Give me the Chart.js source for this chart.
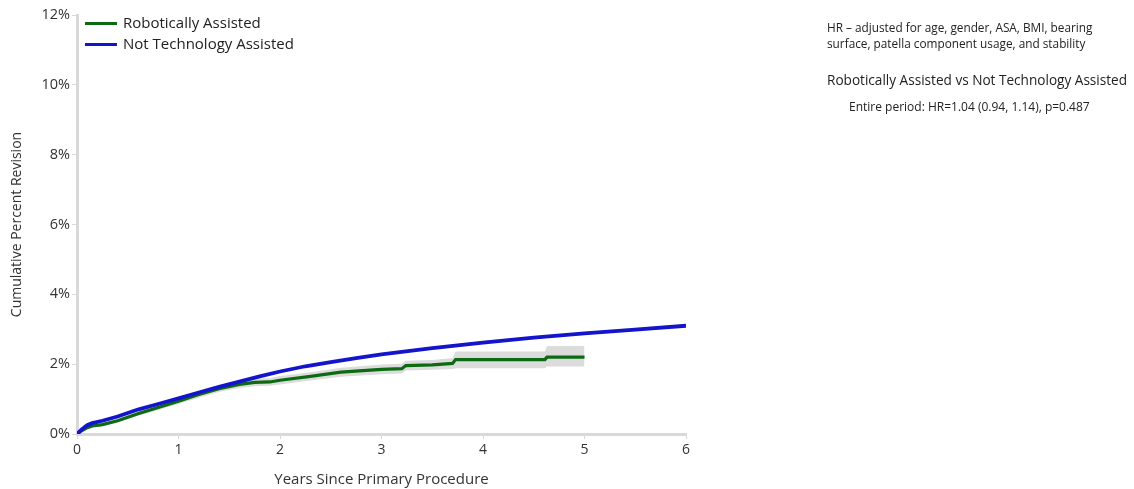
<!DOCTYPE html>
<html>
<head>
<meta charset="utf-8">
<script src="https://cdn.jsdelivr.net/npm/chart.js@4/dist/chart.umd.min.js"></script>
<style>
  html, body { margin: 0; padding: 0; background: #fff; }
  body { width: 1134px; height: 489px; position: relative; overflow: hidden; font-family: "Open Sans", sans-serif; color: #222; }
  #wrap { position: absolute; left: 0; top: 0; width: 1134px; height: 489px; }
  .legend { position: absolute; left: 85px; top: 12px; font-size: 15px; line-height: 21px; }
  .legend div { position: relative; padding-left: 38px; white-space: nowrap; }
  .legend span { position: absolute; left: 0; top: 10px; width: 32px; height: 3px; }
  .note { position: absolute; white-space: nowrap; }
</style>
</head>
<body>
<div id="wrap"><canvas id="myChart"></canvas></div>
<div class="legend" id="legend"></div>
<div class="note" style="left:827px; top:19px; font-size:11.8px; line-height:16px;">HR – adjusted for age, gender, ASA, BMI, bearing<br>surface, patella component usage, and stability</div>
<div class="note" style="left:827px; top:70px; font-size:13.6px;">Robotically Assisted vs Not Technology Assisted</div>
<div class="note" style="left:849px; top:98px; font-size:12px;">Entire period: HR=1.04 (0.94, 1.14), p=0.487</div>
<script>
// Not Technology Assisted
const notTechYears = [0, 0.05, 0.1, 0.15, 0.25, 0.4, 0.6, 0.8, 1.0, 1.2, 1.4, 1.6, 1.8, 2.0, 2.25, 2.5, 2.75, 3.0, 3.5, 4.0, 4.5, 5.0, 5.5, 6.0];
const notTechPct   = [0, 0.14, 0.25, 0.31, 0.38, 0.50, 0.70, 0.86, 1.02, 1.19, 1.35, 1.50, 1.65, 1.79, 1.94, 2.06, 2.17, 2.28, 2.46, 2.62, 2.76, 2.88, 2.99, 3.10];
const notTechLow   = [0, 0.12, 0.23, 0.29, 0.35, 0.47, 0.67, 0.83, 0.99, 1.16, 1.32, 1.47, 1.62, 1.76, 1.91, 2.03, 2.14, 2.25, 2.42, 2.58, 2.72, 2.84, 2.94, 3.05];
const notTechHigh  = [0, 0.16, 0.27, 0.33, 0.41, 0.53, 0.73, 0.89, 1.05, 1.22, 1.38, 1.53, 1.68, 1.82, 1.97, 2.09, 2.20, 2.31, 2.50, 2.66, 2.80, 2.92, 3.04, 3.15];

// Robotically Assisted
const roboYears = [0, 0.05, 0.1, 0.15, 0.25, 0.4, 0.6, 0.8, 1.0, 1.2, 1.4, 1.6, 1.75, 1.9, 2.0, 2.3, 2.6, 3.0, 3.2, 3.24, 3.5, 3.7, 3.73, 4.61, 4.63, 5.0];
const roboPct   = [0, 0.10, 0.18, 0.23, 0.27, 0.38, 0.58, 0.76, 0.94, 1.13, 1.30, 1.42, 1.48, 1.49, 1.54, 1.65, 1.77, 1.85, 1.87, 1.96, 1.98, 2.02, 2.13, 2.13, 2.20, 2.20];
const roboLow   = [0, 0.07, 0.14, 0.19, 0.22, 0.33, 0.52, 0.69, 0.86, 1.04, 1.20, 1.32, 1.37, 1.38, 1.42, 1.53, 1.64, 1.71, 1.73, 1.82, 1.84, 1.86, 1.88, 1.88, 1.93, 1.93];
const roboHigh  = [0, 0.13, 0.22, 0.27, 0.32, 0.43, 0.64, 0.83, 1.02, 1.22, 1.40, 1.52, 1.59, 1.60, 1.66, 1.77, 1.90, 1.99, 2.01, 2.10, 2.12, 2.18, 2.36, 2.36, 2.52, 2.52];

const yTicks = [0, 2, 4, 6, 8, 10, 12];
const xTicks = [0, 1, 2, 3, 4, 5, 6];

const greenColor = '#0b6a12';
const blueColor = '#1414cc';
const bandColor = '#dcdcdc';

const pts = (xs, ys) => xs.map((x, i) => ({x: x, y: ys[i]}));

const lineSet = (label, xs, ys, color, width) => ({
  label: label, data: pts(xs, ys), borderColor: color, borderWidth: width,
  pointRadius: 0, fill: false, tension: 0, order: 0
});
const bandSet = (xs, ys, fill) => ({
  label: '', data: pts(xs, ys), borderWidth: 0, borderColor: 'transparent',
  backgroundColor: bandColor, pointRadius: 0, fill: fill, tension: 0, order: 5
});

Chart.defaults.font.family = '"Open Sans", sans-serif';
Chart.defaults.color = '#333';

const legendItems = [['Robotically Assisted', greenColor], ['Not Technology Assisted', blueColor]];
document.getElementById('legend').innerHTML = legendItems
  .map(([t, c]) => `<div><span style="background:${c}"></span>${t}</div>`).join('');

const myChart = document.getElementById('myChart');
new Chart(myChart, {
  type: 'line',
  data: {
    datasets: [
      bandSet(roboYears, roboHigh, false),
      bandSet(roboYears, roboLow, '-1'),
      bandSet(notTechYears, notTechHigh, false),
      bandSet(notTechYears, notTechLow, '-1'),
      lineSet('Not Technology Assisted', notTechYears, notTechPct, blueColor, 3.8),
      lineSet('Robotically Assisted', roboYears, roboPct, greenColor, 3.2)
    ]
  },
  options: {
    responsive: true,
    maintainAspectRatio: false,
    animation: false,
    layout: { padding: { left: 5, right: 448, top: 15, bottom: 0 } },
    plugins: { legend: { display: false }, tooltip: { enabled: false } },
    scales: {
      x: {
        type: 'linear', min: 0, max: 6,
        afterBuildTicks: s => { s.ticks = xTicks.map(v => ({value: v})); },
        afterFit: s => { s.height = 55; },
        grid: { drawOnChartArea: false, drawTicks: true, tickLength: 5, color: '#d9d9d9', lineWidth: 1 },
        border: { color: '#d9d9d9', width: 3 },
        ticks: { font: { size: 14 }, color: '#333', padding: 3 },
        title: { display: true, text: 'Years Since Primary Procedure', font: { size: 15 }, color: '#333', padding: { top: 4, bottom: 0 } }
      },
      y: {
        min: 0, max: 12,
        afterBuildTicks: s => { s.ticks = yTicks.map(v => ({value: v})); },
        afterFit: s => { s.width = 72; },
        grid: { drawOnChartArea: false, drawTicks: true, tickLength: 5, color: '#d9d9d9', lineWidth: 1 },
        border: { color: '#d9d9d9', width: 3 },
        ticks: { font: { size: 14.5 }, color: '#333', padding: 2, callback: v => v + '%' },
        title: { display: true, text: 'Cumulative Percent Revision', font: { size: 14 }, color: '#333', padding: { bottom: 0 } }
      }
    }
  }
});
</script>
</body>
</html>
